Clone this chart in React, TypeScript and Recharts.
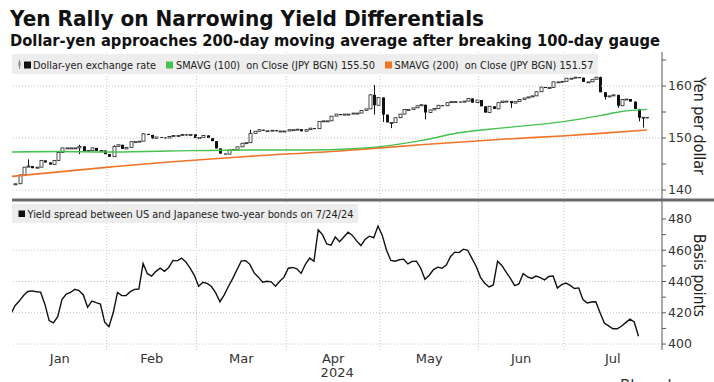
import React from 'react';
import { ComposedChart, Bar, Line, XAxis, YAxis, ReferenceLine } from 'recharts';

const FONT = '"DejaVu Sans", Verdana, sans-serif';

// x axis is a weekday index: 0 = Jan 1 2024
const monthLabels = ['Jan', 'Feb', 'Mar', 'Apr', 'May', 'Jun', 'Jul'];
const monthMidDays = [11.5, 33, 54, 75.5, 98, 119.5, 141];
const monthStartDays = [23, 44, 65, 87, 110, 130];

// USD/JPY daily closes, weekday 1 (Jan 2) .. 149 (Jul 26)
const firstOpen = 141.0;
const usdJpyClose = [
  141.2, 142.9, 144.4, 144.6, 144.2, 144.4, 145.7, 145.3, 144.9, 145.7, 147.2, 148.1, 148.1, 148.1, 148.1, 148.4, 147.5, 147.6, 148.1, 147.5, 147.6, 146.9,
  146.4, 148.4, 148.7, 147.9, 148.2, 149.3, 149.3, 149.4, 150.8, 150.6, 149.9, 150.2, 150.1, 150.0, 150.3, 150.5, 150.5, 150.7, 150.5, 150.7, 150.0,
  150.1, 150.5, 150.0, 149.4, 148.0, 147.0, 146.9, 147.7, 147.8, 148.3, 149.0, 149.1, 150.9, 151.3, 151.6, 151.4, 151.4, 151.5, 151.3, 151.35, 151.35,
  151.6, 151.6, 151.7, 151.3, 151.6, 151.9, 151.8, 153.2, 153.3, 153.3, 154.2, 154.6, 154.4, 154.6, 154.6, 154.8, 154.8, 155.3, 155.6, 158.3, 156.3, 157.8,
  154.5, 153.0, 153.0, 153.9, 154.6, 155.5, 155.5, 155.8, 156.2, 156.4, 154.9, 155.4, 155.7, 156.3, 156.2, 156.8, 157.0, 157.0, 156.9, 157.1, 157.6, 156.8, 157.3,
  156.1, 154.9, 156.1, 155.6, 156.8, 157.1, 157.1, 156.7, 157.0, 157.4, 157.7, 157.9, 158.1, 158.9, 159.8, 159.7, 159.7, 160.8, 160.8, 160.9,
  161.5, 161.5, 161.7, 161.6, 160.8, 160.8, 161.3, 161.7, 158.8, 157.9, 158.1, 158.3, 156.2, 157.4, 157.5, 157.0, 155.6, 153.9, 154.0, 153.8,
];
// notable wicks [day, price]
const candleHighs = [[4, 145.9], [16, 148.7], [24, 148.6], [31, 150.9], [56, 151.6], [84, 158.4], [85, 160.2], [138, 161.8], [147, 155.6]];
const candleLows = [[16, 146.9], [85, 154.5], [87, 153.1], [89, 151.9], [97, 153.6], [117, 155.8], [139, 157.4], [142, 155.8], [147, 153.2], [148, 152.0]];

const sma100Days = [0, 11, 22, 37, 56, 70, 79, 86, 96, 105, 116, 129, 138, 143, 149];
const sma100Values = [147.3, 147.4, 147.3, 147.5, 147.7, 147.7, 147.9, 148.3, 149.5, 151.0, 152.0, 153.1, 154.3, 155.1, 155.5];
const sma200Days = [0, 23, 37, 56, 77, 96, 116, 129, 138, 149];
const sma200Values = [142.6, 144.4, 145.4, 146.5, 147.5, 148.7, 149.8, 150.4, 150.9, 151.55];

// US-Japan 2y spread (bp), weekday 0 .. 147
const yieldSpread = [
  419, 424.5, 427.5, 431, 433.6, 434, 433.5, 433.2, 425.5, 415, 413.5, 417.5, 428.5, 432, 433, 435, 434.2, 431.4, 423.5, 427.5, 426.5, 425.6, 414,
  411.1, 420, 433, 431, 431, 433.5, 435, 435.2, 451.5, 445, 443.5, 446.5, 448.6, 446.5, 449, 453.5, 453.2, 455, 452.5, 448.5, 444,
  437, 439.5, 438.8, 436.8, 432.7, 427.1, 431.5, 437, 442, 447.7, 453.2, 453.3, 451, 445.5, 442.8, 439.5, 440.2, 439.8, 437, 440.2, 442.8,
  448.5, 449, 448.1, 445.2, 451, 455, 453, 473, 470, 464, 463.3, 468.5, 465.5, 468.5, 471.5, 469.5, 466, 463, 467, 469, 468, 475.5,
  469.5, 460, 453.5, 453, 453.9, 454.3, 451.3, 452.9, 453, 448.5, 441.5, 444, 447.6, 449.2, 448.5, 450.5, 456, 458.8, 458.5, 460.7, 460, 454.8, 449.6,
  442.7, 438.8, 436.5, 437.8, 453, 450.3, 446, 442, 437.4, 438.5, 445.1, 443, 442, 443.5, 442.5, 441.1, 443.2, 443.5, 435.8, 438,
  439, 437.5, 435.5, 435.9, 428.4, 426.3, 426.9, 427.1, 420, 413.4, 411.6, 409.8, 409.8, 411.4, 413.7, 415.9, 414.1, 405,
];

const priceTicks = [140, 145, 150, 155, 160, 165];
const priceGrid = [140, 150, 160];
const spreadTicks = [400, 410, 420, 430, 440, 450, 460, 470, 480];
const spreadGrid = [400, 420, 440, 460];

const GREEN = '#46c04f';
const ORANGE = '#f07427';
const GRID = '#c4c4c4';
const AXIS = '#555';

const candles = usdJpyClose.map((close, k) => {
  const day = k + 1;
  const open = k === 0 ? firstOpen : usdJpyClose[k - 1];
  const hiWick = candleHighs.find((w) => w[0] === day);
  const loWick = candleLows.find((w) => w[0] === day);
  const high = Math.max(open, close, hiWick ? hiWick[1] : -Infinity);
  const low = Math.min(open, close, loWick ? loWick[1] : Infinity);
  return { day, open, close, high, low, range: [low, high] };
});

const sma100 = sma100Days.map((day, k) => ({ day, value: sma100Values[k] }));
const sma200 = sma200Days.map((day, k) => ({ day, value: sma200Values[k] }));
const spreadData = yieldSpread.map((value, day) => ({ day, value }));

const Candle = (props: any) => {
  const { x, y, width, height, payload } = props;
  if (x == null || y == null) return null;
  const { open, close, high, low } = payload;
  const cx = Math.round(x + width / 2) + 0.5;
  const span = high - low;
  const ppu = span > 0 ? height / span : 0;
  const top = y + (high - Math.max(open, close)) * ppu;
  const bottom = y + (high - Math.min(open, close)) * ppu;
  const down = close < open;
  return (
    <g>
      {span > 0 && <line x1={cx} x2={cx} y1={y} y2={y + height} stroke="#111" strokeWidth={1} />}
      <rect
        x={cx - 1.5}
        y={top}
        width={3}
        height={Math.max(1, bottom - top)}
        fill={down ? '#111' : '#fff'}
        stroke={down ? 'none' : '#222'}
        strokeWidth={0.8}
      />
    </g>
  );
};

const axisTitle = (text: string, length: number) => (props: any) => {
  const { x, y, height } = props.viewBox;
  const cx = x + 37;
  const cy = y + height / 2;
  return (
    <text
      x={cx}
      y={cy}
      transform={`rotate(90 ${cx} ${cy})`}
      textAnchor="middle"
      dominantBaseline="central"
      fontSize={16}
      fontFamily={FONT}
      fill="#222"
      textLength={length}
      lengthAdjust="spacingAndGlyphs"
    >
      {text}
    </text>
  );
};

const MonthTick = (props: any) => {
  const { x, y, payload } = props;
  const label = monthLabels[monthMidDays.indexOf(payload.value)];
  return (
    <g>
      <text x={x} y={y} dy={13} textAnchor="middle" fontSize={13} fontFamily={FONT} fill="#333">
        {label}
      </text>
      {label === 'Apr' && (
        <text x={x + 4} y={y} dy={27} textAnchor="middle" fontSize={13} fontFamily={FONT} fill="#333">
          2024
        </text>
      )}
    </g>
  );
};

const yTickStyle = { fill: '#333', fontSize: 12.5, fontFamily: FONT };

const App = () => {
  return (
    <div style={{ position: 'absolute', left: 0, top: 0, width: 714, height: 382, background: '#fff', overflow: 'hidden' }}>
      <div style={{ position: 'absolute', left: 0, top: 0 }}>
        <ComposedChart width={714} height={200} data={candles} margin={{ top: 52, right: 0, bottom: 0, left: 12 }}>
          <XAxis dataKey="day" type="number" domain={[0.3, 152.5]} allowDataOverflow hide />
          <YAxis
            orientation="right"
            width={52}
            domain={[138.08, 166.54]}
            allowDataOverflow
            ticks={priceTicks}
            interval={0}
            tickFormatter={(v: number) => (v % 10 === 0 && v < 165 ? String(v) : '')}
            tickSize={4}
            tickMargin={2}
            tick={yTickStyle}
            axisLine={{ stroke: AXIS }}
            tickLine={{ stroke: AXIS }}
            label={{ content: axisTitle('Yen per dollar', 98) }}
          />
          {priceGrid.map((v) => (
            <ReferenceLine key={`pg${v}`} y={v} stroke={GRID} strokeDasharray="1 2" />
          ))}
          {monthStartDays.map((d) => (
            <ReferenceLine key={`pm${d}`} x={d - 0.5} stroke={GRID} strokeDasharray="1 2" />
          ))}
          <Line data={sma200} dataKey="value" type="monotone" stroke={ORANGE} strokeWidth={1.6} dot={false} isAnimationActive={false} />
          <Line data={sma100} dataKey="value" type="monotone" stroke={GREEN} strokeWidth={1.4} dot={false} isAnimationActive={false} />
          <Bar dataKey="range" barSize={3} shape={<Candle />} isAnimationActive={false} />
        </ComposedChart>
      </div>

      <div style={{ position: 'absolute', left: 0, top: 200 }}>
        <ComposedChart width={714} height={182} data={spreadData} margin={{ top: 1, right: 0, bottom: 0, left: 12 }}>
          <XAxis
            dataKey="day"
            type="number"
            domain={[0.3, 152.5]}
            allowDataOverflow
            ticks={monthMidDays}
            interval={0}
            tick={<MonthTick />}
            tickLine={false}
            axisLine={false}
            tickSize={0}
            tickMargin={0}
            height={32}
          />
          <YAxis
            orientation="right"
            width={52}
            domain={[396.2, 491.5]}
            allowDataOverflow
            ticks={spreadTicks}
            interval={0}
            tickFormatter={(v: number) => (v % 20 === 0 ? String(v) : '')}
            tickSize={4}
            tickMargin={2}
            tick={yTickStyle}
            axisLine={{ stroke: AXIS }}
            tickLine={{ stroke: AXIS }}
            label={{ content: axisTitle('Basis points', 83) }}
          />
          {spreadGrid.map((v) => (
            <ReferenceLine key={`sg${v}`} y={v} stroke={GRID} strokeDasharray="1 2" />
          ))}
          {monthStartDays.map((d) => (
            <ReferenceLine key={`sm${d}`} x={d - 0.5} stroke={GRID} strokeDasharray="1 2" />
          ))}
          <Line dataKey="value" type="linear" stroke="#111" strokeWidth={1.4} dot={false} isAnimationActive={false} />
        </ComposedChart>
      </div>

      <svg width={714} height={382} style={{ position: 'absolute', left: 0, top: 0, pointerEvents: 'none' }}>
        <text x={10} y={26} fontSize={22} fontWeight="bold" fontFamily={FONT} fill="#111" textLength={474} lengthAdjust="spacingAndGlyphs">
          Yen Rally on Narrowing Yield Differentials
        </text>
        <text x={10} y={46} fontSize={15} fontWeight="bold" fontFamily={FONT} fill="#111" textLength={650} lengthAdjust="spacingAndGlyphs">
          Dollar-yen approaches 200-day moving average after breaking 100-day gauge
        </text>

        <rect x={12} y={54} width={586} height={20} fill="#ebebeb" opacity={0.92} />
        <line x1={19.5} x2={19.5} y1={60} y2={69} stroke="#888" />
        <rect x={18.5} y={62} width={2} height={4} fill="#888" />
        <rect x={24} y={61.5} width={7} height={7} fill="#111" />
        <text x={33} y={68.5} fontSize={11} fontFamily={FONT} fill="#222" textLength={123} lengthAdjust="spacingAndGlyphs">
          Dollar-yen exchange rate
        </text>
        <rect x={166} y={61.5} width={7} height={7} fill={GREEN} />
        <text x={176} y={68.5} fontSize={11} fontFamily={FONT} fill="#222" textLength={199} lengthAdjust="spacingAndGlyphs" style={{ whiteSpace: 'pre' }}>
          {'SMAVG (100)  on Close (JPY BGN) 155.50'}
        </text>
        <rect x={385} y={61.5} width={7} height={7} fill={ORANGE} />
        <text x={394.5} y={68.5} fontSize={11} fontFamily={FONT} fill="#222" textLength={199} lengthAdjust="spacingAndGlyphs" style={{ whiteSpace: 'pre' }}>
          {'SMAVG (200)  on Close (JPY BGN) 151.57'}
        </text>

        <rect x={12} y={198.5} width={702} height={3} fill="#6a6a6a" />

        <rect x={12} y={204} width={346} height={19} fill="#ebebeb" opacity={0.92} />
        <rect x={18.5} y={210.5} width={6.5} height={6.5} fill="#111" />
        <text x={27.5} y={217.5} fontSize={11} fontFamily={FONT} fill="#222" textLength={326} lengthAdjust="spacingAndGlyphs">
          Yield spread between US and Japanese two-year bonds on 7/24/24
        </text>

        <text x={620} y={391} fontSize={15} fontFamily={FONT} fill="#333">
          Bloomberg
        </text>
      </svg>
    </div>
  );
};

export default App;
